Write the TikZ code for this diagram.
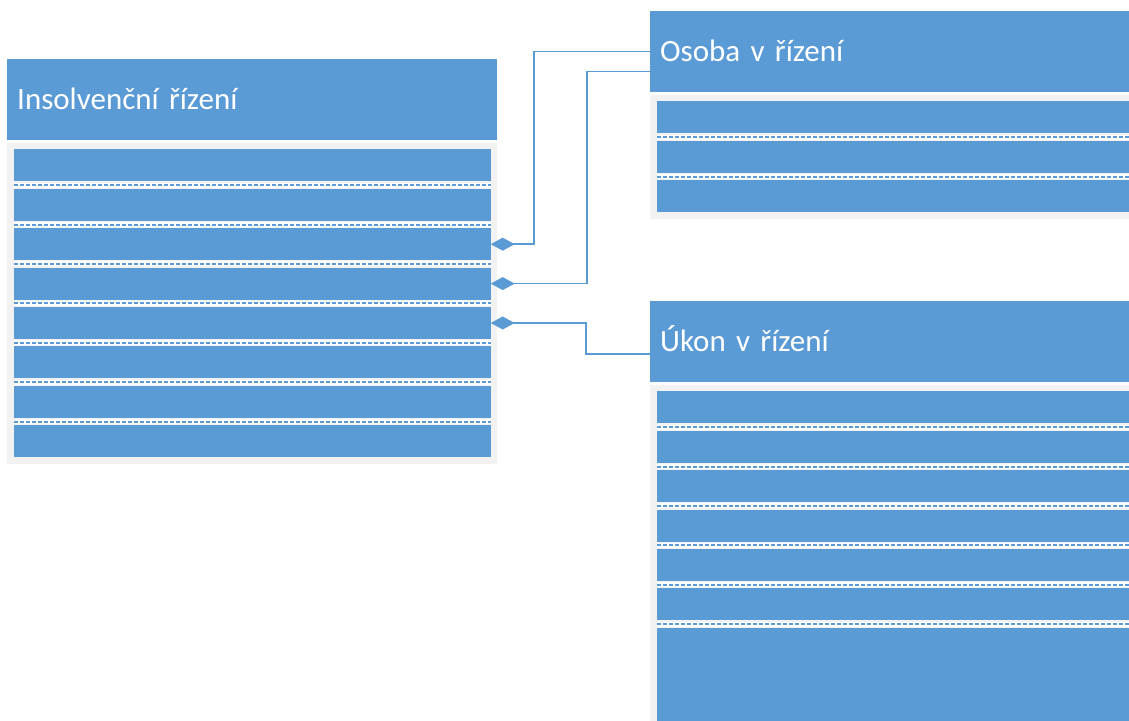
\documentclass[tikz,border=0pt]{standalone}
\usepackage{fontspec}
\setmainfont{Carlito}
\usepackage{tikz}
\usetikzlibrary{arrows.meta, positioning}

\definecolor{umlblue}{HTML}{5B9BD5}
\definecolor{umlgray}{HTML}{F2F2F2}

\tikzset{
  head/.style={fill=umlblue, text=white, anchor=north west, minimum width=490pt, minimum height=81pt,
    text width=470pt, align=left, inner xsep=10pt, text height=20pt, text depth=0pt,
    font=\fontsize{31}{36}\selectfont},
  body/.style={fill=umlgray, minimum width=490pt, inner sep=0pt},
  attr/.style={fill=umlblue, minimum width=477pt, minimum height=32pt, inner sep=0pt, outer sep=0pt},
  sep/.style={draw=white, line width=5pt, postaction={draw=umlblue, line width=2pt, dash pattern=on 4pt off 2pt}},
  has/.style={draw=umlblue, line width=1.5pt, {Diamond[length=24pt, width=13pt, fill=umlblue]}-}
}

\begin{document}
\begin{tikzpicture}[x=1pt, y=-1pt, node distance=7.4pt]
        \path[use as bounding box, clip] (0,0) rectangle (1129,720);
        % Nodes
        \node[head] (Rizeni) at (7,59) {Insolvenční řízení};
        \node[body, minimum height=321pt, below=2pt of Rizeni] (RizeniBody) {};
        \node[attr, below=7pt of RizeniBody.north] (R1) {};
        \node[attr, below=of R1] (R2) {};
        \node[attr, below=of R2] (R3) {};
        \node[attr, below=of R3] (R4) {};
        \node[attr, below=of R4] (R5) {};
        \node[attr, below=of R5] (R6) {};
        \node[attr, below=of R6] (R7) {};
        \node[attr, below=of R7] (R8) {};

        \node[head] (Osoba) at (650,11) {Osoba v řízení};
        \node[body, minimum height=124pt, below=2pt of Osoba] (OsobaBody) {};
        \node[attr, below=7pt of OsobaBody.north] (O1) {};
        \node[attr, below=of O1] (O2) {};
        \node[attr, below=of O2] (O3) {};

        \node[head] (Ukon) at (650,301) {Úkon v řízení};
        \node[body, minimum height=400pt, below=2pt of Ukon] (UkonBody) {};
        \node[attr, below=7pt of UkonBody.north] (U1) {};
        \node[attr, below=of U1] (U2) {};
        \node[attr, below=of U2] (U3) {};
        \node[attr, below=of U3] (U4) {};
        \node[attr, below=of U4] (U5) {};
        \node[attr, below=of U5] (U6) {};
        \node[attr, minimum height=120pt, below=of U6] (U7) {};

        % Row separators
        \foreach \r in {R1,R2,R3,R4,R5,R6,R7,O1,O2,U1,U2,U3,U4,U5,U6}
          \draw[sep] ([yshift=-3.7pt]\r.south west) -- ([yshift=-3.7pt]\r.south east);

        % Arrows
        \draw[has] (R3.east) -| ([xshift=-116pt]Osoba.west) -- (Osoba.west);
        \draw[has] (R4.east) -| ([xshift=-63pt, yshift=-20pt]Osoba.west) -- ([yshift=-20pt]Osoba.west);
        \draw[has] (R5.east) -| ([xshift=-64pt, yshift=-12.5pt]Ukon.west) -- ([yshift=-12.5pt]Ukon.west);
    \end{tikzpicture}
\end{document}
